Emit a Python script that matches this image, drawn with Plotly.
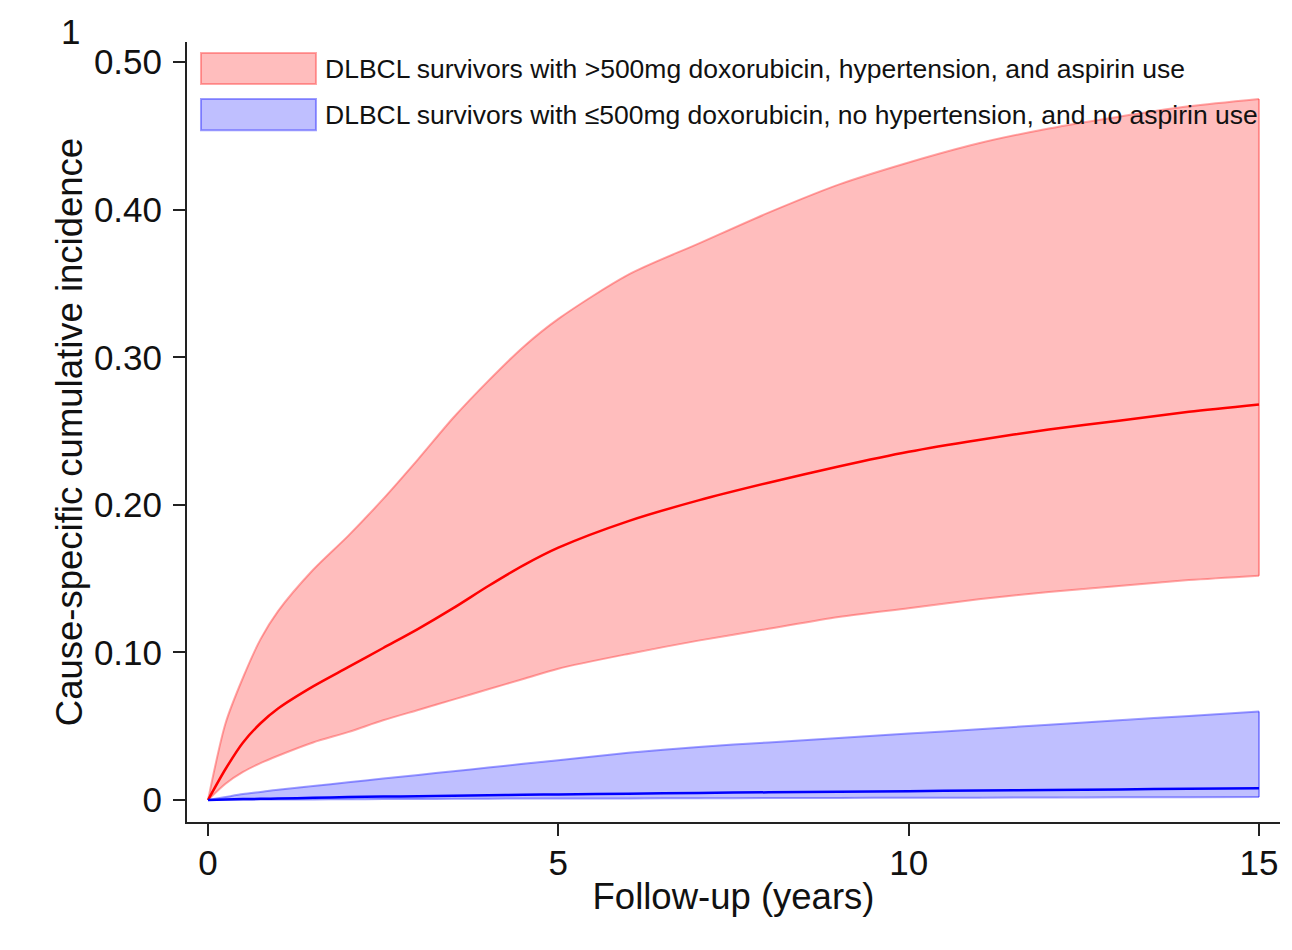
import plotly.graph_objects as go

# Follow-up time (years)
t = [0, 0.25, 0.5, 0.75, 1, 1.5, 2, 2.5, 3, 3.5, 4, 4.5, 5, 6, 7, 8, 9, 10, 11, 12, 13, 14, 15]

# High-risk group: >500mg doxorubicin, hypertension, aspirin use
red_mean = [0, 0.021, 0.039, 0.052, 0.062, 0.077, 0.090, 0.103, 0.116, 0.130, 0.145, 0.159, 0.171,
            0.189, 0.203, 0.215, 0.226, 0.236, 0.244, 0.251, 0.257, 0.263, 0.268]
red_upper = [0, 0.052, 0.083, 0.109, 0.128, 0.156, 0.179, 0.204, 0.231, 0.259, 0.284, 0.307, 0.326,
             0.356, 0.377, 0.398, 0.417, 0.432, 0.445, 0.455, 0.463, 0.470, 0.475]
red_lower = [0, 0.011, 0.019, 0.025, 0.030, 0.039, 0.046, 0.054, 0.061, 0.068, 0.075, 0.082, 0.089,
             0.099, 0.108, 0.116, 0.124, 0.130, 0.136, 0.141, 0.145, 0.149, 0.152]

# Low-risk group: <=500mg doxorubicin, no hypertension, no aspirin use
blue_mean = [0, 0.0003, 0.0006, 0.0008, 0.001, 0.0015, 0.002, 0.0023, 0.0026, 0.0029, 0.0032, 0.0035, 0.0038,
             0.0043, 0.0048, 0.0052, 0.0056, 0.006, 0.0064, 0.0068, 0.0072, 0.0076, 0.008]
blue_upper = [0, 0.002, 0.004, 0.0055, 0.007, 0.0095, 0.012, 0.0145, 0.017, 0.0195, 0.022, 0.0245, 0.027,
              0.032, 0.036, 0.039, 0.042, 0.045, 0.048, 0.051, 0.054, 0.057, 0.060]
blue_lower = [0, 0.0001, 0.0002, 0.0003, 0.0003, 0.0004, 0.0005, 0.0006, 0.0007, 0.0008, 0.0009, 0.001, 0.001,
              0.0011, 0.0012, 0.0013, 0.0014, 0.0015, 0.0016, 0.0017, 0.0018, 0.0019, 0.002]

legend_labels = [
    "DLBCL survivors with >500mg doxorubicin, hypertension, and aspirin use",
    "DLBCL survivors with \u2264500mg doxorubicin, no hypertension, and no aspirin use",
]

y_ticks = [0, 0.1, 0.2, 0.3, 0.4, 0.5]
y_ticklabels = ["0", "0.10", "0.20", "0.30", "0.40", "0.50"]
x_ticks = [0, 5, 10, 15]

FONT = "Liberation Sans, Arial, sans-serif"
RED_FILL = "rgba(255,0,0,0.26)"
RED_EDGE = "rgba(255,60,60,0.45)"
BLUE_FILL = "rgba(0,0,255,0.25)"
BLUE_EDGE = "rgba(40,40,255,0.45)"

fig = go.Figure()


def band(upper, lower, fill, edge):
    fig.add_trace(go.Scatter(
        x=t, y=lower, mode="lines",
        line=dict(color=edge, width=2, shape="spline", smoothing=0.8),
        hoverinfo="skip", showlegend=False))
    fig.add_trace(go.Scatter(
        x=t, y=upper, mode="lines", fill="tonexty", fillcolor=fill,
        line=dict(color=edge, width=2, shape="spline", smoothing=0.8),
        hoverinfo="skip", showlegend=False))


def end_edge(upper, lower, edge):
    fig.add_trace(go.Scatter(
        x=[t[-1], t[-1]], y=[lower[-1], upper[-1]], mode="lines",
        line=dict(color=edge, width=2), hoverinfo="skip", showlegend=False))


band(red_upper, red_lower, RED_FILL, RED_EDGE)
band(blue_upper, blue_lower, BLUE_FILL, BLUE_EDGE)
end_edge(red_upper, red_lower, RED_EDGE)
end_edge(blue_upper, blue_lower, BLUE_EDGE)

fig.add_trace(go.Scatter(x=t, y=red_mean, mode="lines",
                         line=dict(color="#ff0000", width=2.5, shape="spline", smoothing=0.8),
                         showlegend=False))
fig.add_trace(go.Scatter(x=t, y=blue_mean, mode="lines",
                         line=dict(color="#0000ff", width=2.5, shape="spline", smoothing=0.8),
                         showlegend=False))

# legend drawn as boxes + text (Stata style)
box_y = [(0.946, 0.986), (0.887, 0.927)]
box_fill = [RED_FILL, BLUE_FILL]
box_edge = [RED_EDGE, BLUE_EDGE]
shapes = []
annotations = []
for i, lab in enumerate(legend_labels):
    shapes.append(dict(type="rect", xref="paper", yref="paper",
                       x0=0.0128, x1=0.118, y0=box_y[i][0], y1=box_y[i][1],
                       fillcolor=box_fill[i], line=dict(color=box_edge[i], width=2)))
    annotations.append(dict(xref="paper", yref="paper", x=0.1244, y=(box_y[i][0] + box_y[i][1]) / 2,
                            xanchor="left", yanchor="middle", text=lab, showarrow=False,
                            font=dict(family=FONT, size=26.5, color="#111")))

annotations.append(dict(xref="paper", yref="paper", x=-0.107, y=1.014, xanchor="center", yanchor="middle",
                        text="1", showarrow=False, font=dict(family=FONT, size=35, color="#111")))

fig.update_layout(
    width=1292, height=950,
    margin=dict(l=179, r=20, t=34, b=136),
    paper_bgcolor="white", plot_bgcolor="white",
    font=dict(family=FONT, color="#111"),
    shapes=shapes, annotations=annotations,
    showlegend=False,
    xaxis=dict(range=[-0.3, 15.3], tickvals=x_ticks, ticks="outside", ticklen=12, tickwidth=2,
               tickcolor="#222", showline=True, linecolor="#222", linewidth=2, showgrid=False,
               zeroline=False, tickfont=dict(size=35, family=FONT), ticklabelstandoff=-3,
               automargin=False,
               title=dict(text="Follow-up (years)", font=dict(size=36.5, family=FONT), standoff=2)),
    yaxis=dict(range=[-0.0149, 0.5136], tickvals=y_ticks, ticktext=y_ticklabels, ticks="outside",
               ticklen=12, tickwidth=2, tickcolor="#222", showline=True, linecolor="#222", linewidth=2,
               showgrid=False, zeroline=False, tickfont=dict(size=35, family=FONT),
               ticklabelstandoff=4, automargin=False,
               title=dict(text="Cause-specific cumulative incidence", font=dict(size=36.5, family=FONT),
                          standoff=0)),
)

fig.write_html("out.html")
